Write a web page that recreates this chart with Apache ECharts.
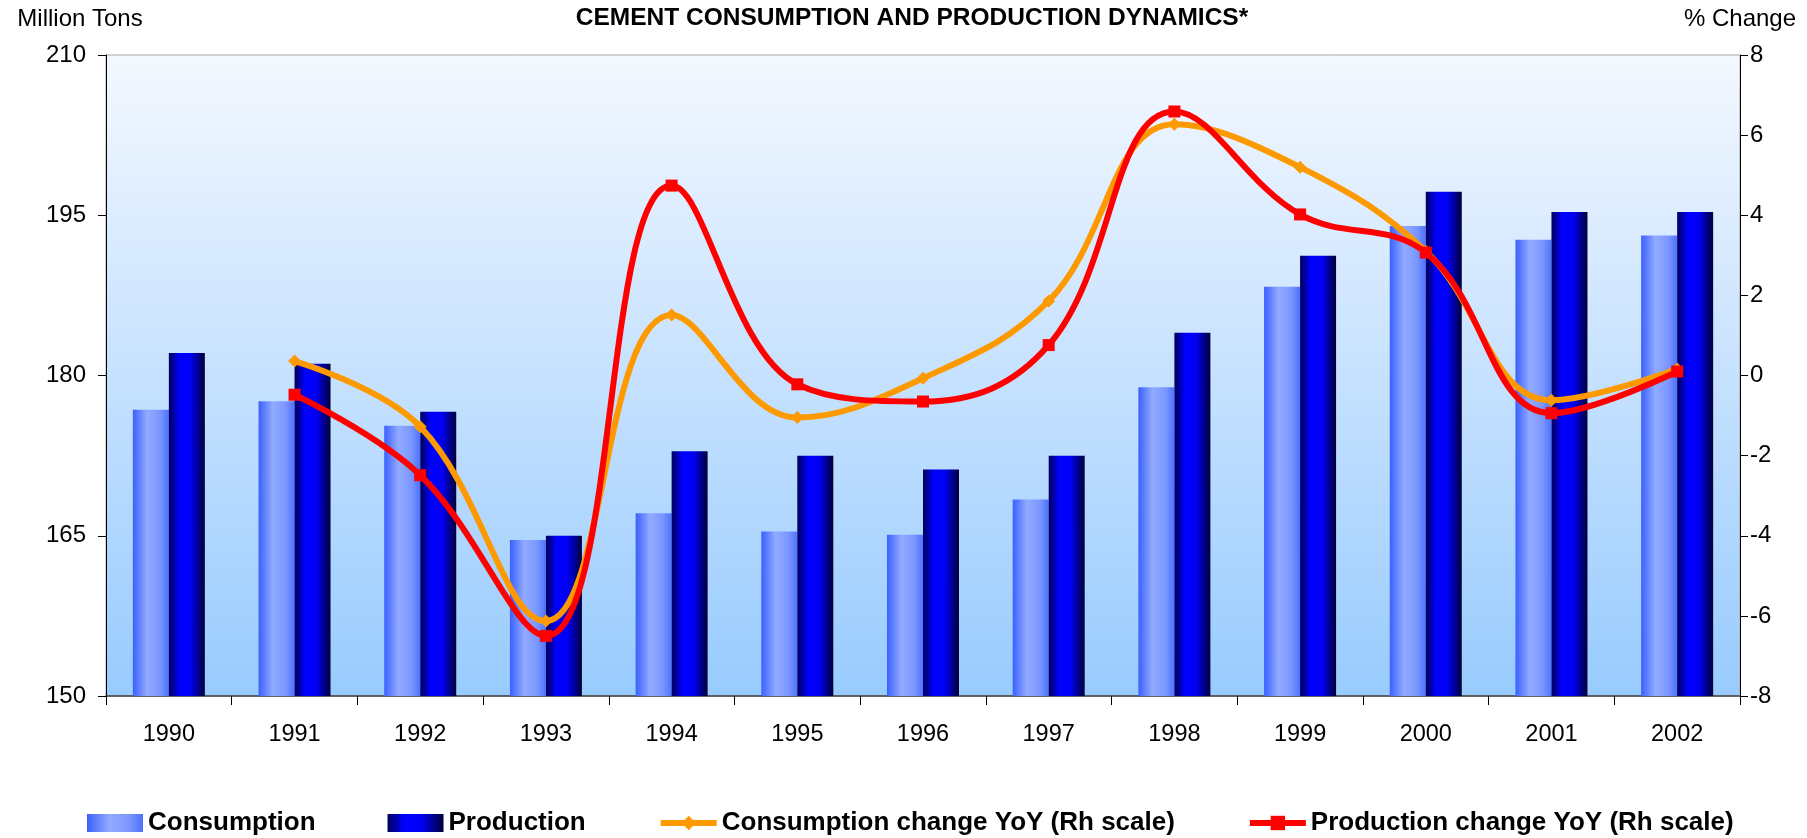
<!DOCTYPE html>
<html>
<head>
<meta charset="utf-8">
<title>Cement consumption and production dynamics</title>
<script src="https://cdn.jsdelivr.net/npm/echarts@6/dist/echarts.min.js"></script>
<style>
  html, body { margin: 0; padding: 0; background: #fff; }
  #chart { width: 1807px; height: 838px; }
</style>
</head>
<body>
<div id="chart"></div>
<script>
var years = ["1990", "1991", "1992", "1993", "1994", "1995", "1996", "1997", "1998", "1999", "2000", "2001", "2002"];
// million tons
var consumption = [176.8, 177.6, 175.3, 164.6, 167.1, 165.4, 165.1, 168.4, 178.9, 188.3, 194.0, 192.7, 193.1];
var production = [182.1, 181.1, 176.6, 165.0, 172.9, 172.5, 171.2, 172.5, 184.0, 191.2, 197.2, 195.3, 195.3];
// % change year on year, no value for the first year
var consumptionYoY = ["-", 0.36, -1.28, -6.13, 1.51, -1.05, -0.07, 1.86, 6.27, 5.2, 3.1, -0.62, 0.16];
var productionYoY = ["-", -0.48, -2.49, -6.5, 4.74, -0.22, -0.65, 0.76, 6.59, 4.02, 3.07, -0.94, 0.1];

var font = "Liberation Sans, Arial, sans-serif";
var chart = echarts.init(document.getElementById("chart"));

function hGradient(stops) {
  return new echarts.graphic.LinearGradient(0, 0, 1, 0, stops);
}

var option = {
  animation: false,
  textStyle: { fontFamily: font, color: "#000" },
  title: {
    text: "CEMENT CONSUMPTION AND PRODUCTION DYNAMICS*",
    left: 907,
    textAlign: "center",
    top: 1,
    textStyle: { fontSize: 24.5, fontWeight: "bold", color: "#000", fontFamily: font }
  },
  grid: {
    left: 106,
    right: 67,
    top: 55,
    bottom: 142,
    show: true,
    borderColor: "#a8a8a8",
    borderWidth: 1,
    // 绘图区背景 上浅下蓝
    backgroundColor: new echarts.graphic.LinearGradient(0, 0, 0, 1, [
      { offset: 0, color: "#f4f8ff" },
      { offset: 1, color: "#98cbfe" }
    ])
  },
  legend: {
    left: 82,
    top: 805,
    itemWidth: 56,
    itemHeight: 18,
    itemGap: 72,
    textStyle: { fontSize: 26, fontWeight: "bold", color: "#000", fontFamily: font },
    data: [
      { name: "Consumption", icon: "rect" },
      { name: "Production", icon: "rect" },
      { name: "Consumption change YoY (Rh scale)", lineStyle: { width: 6 } },
      { name: "Production change YoY (Rh scale)", lineStyle: { width: 6 } }
    ]
  },
  xAxis: {
    type: "category",
    data: years,
    axisLine: { onZero: false, lineStyle: { color: "#404040", width: 1.5 } },
    axisTick: { show: true, length: 9, lineStyle: { color: "#000" } },
    axisLabel: { fontSize: 23.5, color: "#000", margin: 27 },
    splitLine: { show: false }
  },
  yAxis: [
    {
      type: "value",
      min: 150,
      max: 210,
      interval: 15,
      name: "Million Tons",
      nameLocation: "end",
      nameGap: 24,
      nameTextStyle: { fontSize: 24, color: "#000", align: "center", padding: [0, 0, 0, -52] },
      axisLine: { show: true, lineStyle: { color: "#000", width: 1 } },
      axisTick: { show: true, length: 8, lineStyle: { color: "#000" } },
      axisLabel: { fontSize: 24, color: "#000", margin: 20 },
      splitLine: { show: false }
    },
    {
      type: "value",
      min: -8,
      max: 8,
      interval: 2,
      name: "% Change",
      nameLocation: "end",
      nameGap: 24,
      nameTextStyle: { fontSize: 24, color: "#000", align: "center" },
      axisLine: { show: true, lineStyle: { color: "#000", width: 1 } },
      axisTick: { show: true, length: 8, lineStyle: { color: "#000" } },
      axisLabel: { fontSize: 24, color: "#000", margin: 10 },
      splitLine: { show: false }
    }
  ],
  series: [
    {
      name: "Consumption",
      type: "bar",
      barWidth: 36,
      barGap: "0%",
      itemStyle: {
        color: hGradient([
          { offset: 0, color: "#3a60ff" },
          { offset: 0.4, color: "#92abff" },
          { offset: 0.75, color: "#7b97ff" },
          { offset: 1, color: "#4d72ff" }
        ])
      },
      data: consumption
    },
    {
      name: "Production",
      type: "bar",
      barWidth: 36,
      barGap: "0%",
      itemStyle: {
        color: hGradient([
          { offset: 0, color: "#00005a" },
          { offset: 0.3, color: "#0000ff" },
          { offset: 0.6, color: "#0000f5" },
          { offset: 1, color: "#00003a" }
        ])
      },
      data: production
    },
    {
      name: "Consumption change YoY (Rh scale)",
      type: "line",
      yAxisIndex: 1,
      smooth: 0.4,
      symbol: "diamond",
      symbolSize: 13,
      lineStyle: { color: "#ff9900", width: 6 },
      itemStyle: { color: "#ff9900" },
      data: consumptionYoY
    },
    {
      name: "Production change YoY (Rh scale)",
      type: "line",
      yAxisIndex: 1,
      smooth: 0.4,
      symbol: "rect",
      symbolSize: 12,
      lineStyle: { color: "#ff0000", width: 6 },
      itemStyle: { color: "#ff0000" },
      data: productionYoY
    }
  ]
};
chart.setOption(option);
</script>
</body>
</html>
